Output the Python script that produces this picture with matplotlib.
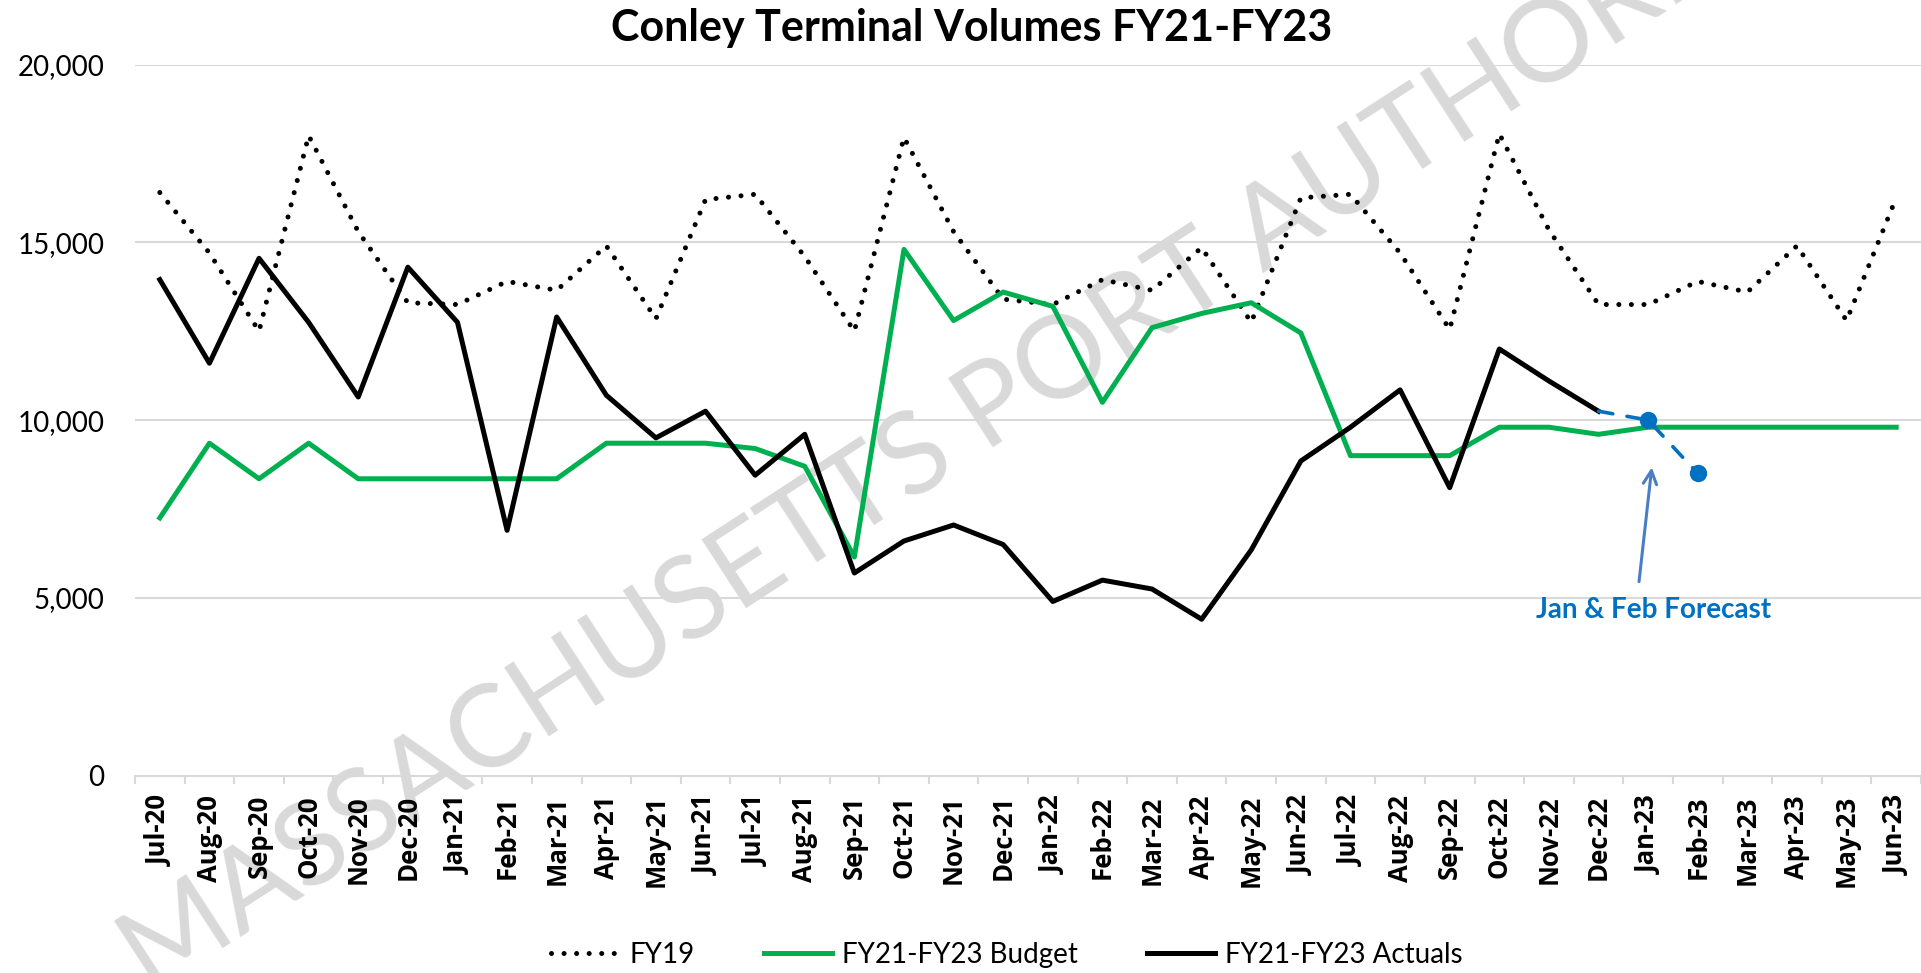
import numpy as np
import matplotlib
matplotlib.use("Agg")
import matplotlib.pyplot as plt

months = ["Jul-20", "Aug-20", "Sep-20", "Oct-20", "Nov-20", "Dec-20",
          "Jan-21", "Feb-21", "Mar-21", "Apr-21", "May-21", "Jun-21",
          "Jul-21", "Aug-21", "Sep-21", "Oct-21", "Nov-21", "Dec-21",
          "Jan-22", "Feb-22", "Mar-22", "Apr-22", "May-22", "Jun-22",
          "Jul-22", "Aug-22", "Sep-22", "Oct-22", "Nov-22", "Dec-22",
          "Jan-23", "Feb-23", "Mar-23", "Apr-23", "May-23", "Jun-23"]

fy19 = [16400, 14700, 12500, 18000, 15300, 13300, 13250, 13900, 13650, 14900, 12850, 16200,
        16350, 14600, 12500, 17950, 15300, 13400, 13250, 13950, 13650, 14850, 12750, 16250,
        16350, 14700, 12550, 18050, 15350, 13250, 13250, 13900, 13600, 14900, 12800, 16250]

budget = [7250, 9350, 8350, 9350, 8350, 8350, 8350, 8350, 8350, 9350, 9350, 9350,
          9200, 8700, 6150, 14800, 12800, 13600, 13200, 10500, 12600, 13000, 13300, 12450,
          9000, 9000, 9000, 9800, 9800, 9600, 9800, 9800, 9800, 9800, 9800, 9800]

# actuals run through Dec-22
actuals = [13950, 11600, 14550, 12750, 10650, 14300, 12750, 6900, 12900, 10700, 9500, 10250,
           8450, 9600, 5700, 6600, 7050, 6500, 4900, 5500, 5250, 4400, 6350, 8850,
           9800, 10850, 8100, 12000, 11100, 10250]

forecast_months = ["Dec-22", "Jan-23", "Feb-23"]
forecast = [10250, 10000, 8500]

W, H = 1921, 973
fig = plt.figure(figsize=(W / 100, H / 100), dpi=100)

# axes placed to match the Excel plot area (pixels)
left, right, top, bottom = 135, 1921, 64.5, 775.7
ax = fig.add_axes([left / W, 1 - bottom / H, (right - left) / W, (bottom - top) / H])
ax.set_zorder(1)
ax.patch.set_alpha(0)

x = np.arange(len(months))
ax.plot(x, fy19, color="black", lw=3.6, linestyle=(0, (0.01, 2.5)),
        dash_capstyle="round", label="FY19")
ax.plot(x, budget, color="#00B050", lw=3.6, label="FY21-FY23 Budget")
ax.plot(x[:len(actuals)], actuals, color="black", lw=3.6, label="FY21-FY23 Actuals")

fx = [months.index(m) for m in forecast_months]
ax.plot(fx, forecast, color="#0070C0", lw=2.6, linestyle=(0, (4, 4)),
        dash_capstyle="round", marker="o", markersize=11.5, markevery=[1, 2])

ax.set_xlim(-0.5, len(months) - 0.5)
ax.set_ylim(0, 20000)
ax.set_yticks([0, 5000, 10000, 15000, 20000])
ax.set_yticklabels([f"{v:,}" for v in [0, 5000, 10000, 15000, 20000]],
                   family="Lato", fontsize=20)
ax.tick_params(axis="y", length=0, pad=22)

ax.set_xticks(x)
ax.set_xticklabels(months, rotation=90, family="Open Sans", fontweight="bold", fontsize=18.5)
ax.tick_params(axis="x", which="major", length=0, pad=14)
ax.set_xticks(np.arange(len(months) + 1) - 0.5, minor=True)
ax.tick_params(axis="x", which="minor", length=6, width=1.5, color="#D9D9D9")

ax.grid(axis="y", color="#D9D9D9", lw=1.5)
ax.set_axisbelow(True)
for s in ["top", "right", "left"]:
    ax.spines[s].set_visible(False)
ax.spines["bottom"].set_color("#D9D9D9")
ax.spines["bottom"].set_linewidth(1.5)

# forecast callout
ax.annotate("", xy=(30.08, 8750), xytext=(29.81, 5380),
            arrowprops=dict(arrowstyle="->", color="#4A7EC4", lw=2.2, mutation_scale=24))
ax.text(30.11, 4660, "Jan & Feb Forecast", color="#0070C0", family="Lato",
        fontweight="bold", fontsize=20, ha="center", va="center")

fig.text(972 / W, 1 - 28 / H, "Conley Terminal Volumes FY21-FY23", family="Lato",
         fontweight="bold", fontsize=31, ha="center", va="center")

fig.legend(loc="center", bbox_to_anchor=(1007 / W, 1 - 955 / H), ncol=3, frameon=False,
           prop={"family": "Lato", "size": 20}, handlelength=2.45, handletextpad=0.36,
           columnspacing=2.5)

# watermark
fig.text(150 / W, 1 - 995 / H, "MASSACHUSETTS PORT AUTHORITY", family="Lato",
         fontsize=83, color="#D9D9D9", rotation=33, rotation_mode="anchor",
         ha="left", va="baseline", zorder=0.5)

fig.savefig("out.png", dpi=100)
